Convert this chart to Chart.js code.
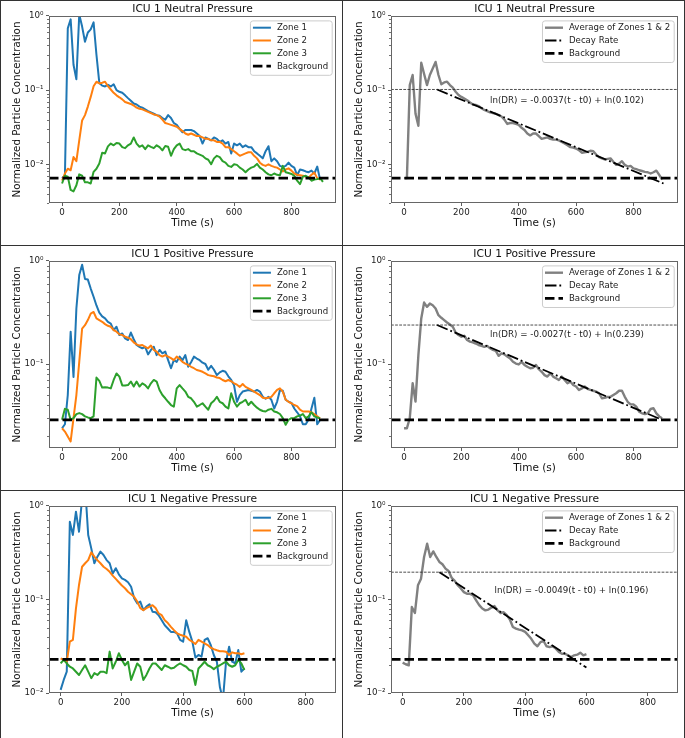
<!DOCTYPE html>
<html>
<head>
<meta charset="utf-8">
<script src="https://cdn.jsdelivr.net/npm/chart.js@4.4.1/dist/chart.umd.min.js"></script>
<style>
  html, body { margin: 0; padding: 0; background: #fff; }
  #figure { position: relative; width: 685px; height: 738px; overflow: hidden; }
  #figure canvas { position: absolute; }
  .cell { position: absolute; border: 1px solid #333; box-sizing: border-box; pointer-events: none; }
</style>
</head>
<body>
<div id="figure"></div>
<script>
const FONT = "'DejaVu Sans', sans-serif";

// Axis ticks
const timeTicks = [0, 200, 400, 600, 800];
const concTicks = [0.01, 0.1, 1];
const concTickLabels = ['10⁻²', '10⁻¹', '10⁰'];
const sampleStep = 10; // seconds between samples

const zoneLabels = ['Zone 1', 'Zone 2', 'Zone 3'];
const zoneColors = ['#1f77b4', '#ff7f0e', '#2ca02c'];

// ICU 1 neutral pressure (t = 0, 10, 20 ... s)
const neutralZone1 = [0.0065, 0.0070, 0.68, 0.90, 0.22, 0.14, 1.05, 0.72, 0.45, 0.60,
  0.66, 0.82, 0.30, 0.125, 0.115, 0.112, 0.118, 0.112, 0.12, 0.10,
  0.095, 0.092, 0.085, 0.078, 0.072, 0.066, 0.064, 0.060, 0.058, 0.055,
  0.052, 0.050, 0.048, 0.046, 0.045, 0.042, 0.040, 0.046, 0.042, 0.036,
  0.034, 0.030, 0.027, 0.029, 0.029, 0.029, 0.028, 0.026, 0.024, 0.019,
  0.023, 0.022, 0.021, 0.023, 0.022, 0.020, 0.021, 0.019, 0.020, 0.014,
  0.019, 0.018, 0.019, 0.017, 0.018, 0.017, 0.017, 0.015, 0.014, 0.013,
  0.012, 0.015, 0.0175, 0.011, 0.012, 0.011, 0.0095, 0.0092, 0.0095, 0.0105,
  0.0095, 0.0090, 0.0071, 0.0085, 0.0083, 0.0080, 0.0078, 0.0082, 0.0075, 0.0093,
  0.0062];
const neutralZone2 = [0.0060, 0.0075, 0.0087, 0.0083, 0.0125, 0.011, 0.021, 0.039, 0.046, 0.060,
  0.081, 0.113, 0.130, 0.123, 0.126, 0.130, 0.113, 0.102, 0.092, 0.085,
  0.080, 0.075, 0.069, 0.067, 0.065, 0.062, 0.058, 0.056, 0.055, 0.053,
  0.051, 0.049, 0.047, 0.046, 0.044, 0.040, 0.036, 0.035, 0.034, 0.033,
  0.032, 0.030, 0.028, 0.026, 0.025, 0.026, 0.025, 0.024, 0.024, 0.023,
  0.022, 0.022, 0.021, 0.021, 0.020, 0.020, 0.019, 0.017, 0.017, 0.016,
  0.015, 0.014, 0.013, 0.0135, 0.014, 0.0145, 0.0145, 0.013, 0.012, 0.0105,
  0.0098, 0.0095, 0.010, 0.0095, 0.0092, 0.0090, 0.0085, 0.0080, 0.0085, 0.0088,
  0.0082, 0.0075, 0.0072, 0.0071, 0.0070, 0.0068, 0.0066, 0.0072, 0.0077, 0.0065,
  0.0062];
const neutralZone3 = [0.0055, 0.0070, 0.0068, 0.0045, 0.0043, 0.0052, 0.0073, 0.0070, 0.0057, 0.0057,
  0.0055, 0.0079, 0.0087, 0.0102, 0.0143, 0.0140, 0.0174, 0.0190, 0.0180, 0.0194,
  0.0190, 0.0170, 0.0165, 0.0180, 0.0190, 0.0230, 0.0190, 0.0172, 0.0180, 0.0160,
  0.0180, 0.0172, 0.0165, 0.0180, 0.0170, 0.0154, 0.0176, 0.0172, 0.0130, 0.0160,
  0.0180, 0.0190, 0.0160, 0.0155, 0.0160, 0.0150, 0.0150, 0.0140, 0.0135, 0.0130,
  0.0120, 0.0115, 0.0100, 0.0120, 0.0130, 0.0125, 0.0110, 0.0105, 0.0095, 0.0092,
  0.0100, 0.0098, 0.0090, 0.0085, 0.0078, 0.0085, 0.0090, 0.0093, 0.0101, 0.0090,
  0.0085, 0.0078, 0.0073, 0.0071, 0.0075, 0.0072, 0.0071, 0.0095, 0.0078, 0.0076,
  0.0074, 0.0070, 0.0060, 0.0054, 0.0068, 0.0070, 0.0066, 0.0060, 0.0062, 0.0063,
  0.0065, 0.0058];
const neutralAverage = [0.0065, 0.0065, 0.117, 0.16, 0.048, 0.033, 0.234, 0.165, 0.117, 0.16,
  0.196, 0.24, 0.16, 0.12, 0.127, 0.13, 0.117, 0.108, 0.095, 0.086,
  0.081, 0.077, 0.073, 0.068, 0.064, 0.063, 0.061, 0.057, 0.054, 0.052,
  0.050, 0.049, 0.048, 0.046, 0.044, 0.040, 0.035, 0.036, 0.036, 0.035,
  0.034, 0.031, 0.029, 0.026, 0.0245, 0.026, 0.026, 0.024, 0.022, 0.0225,
  0.023, 0.022, 0.0215, 0.0215, 0.021, 0.020, 0.019, 0.018, 0.017, 0.0168,
  0.0163, 0.0155, 0.0143, 0.0145, 0.0147, 0.0152, 0.015, 0.0135, 0.0125, 0.012,
  0.0116, 0.0118, 0.012, 0.0108, 0.0098, 0.0102, 0.011, 0.0098, 0.0093, 0.0095,
  0.0088, 0.0086, 0.0083, 0.0081, 0.0079, 0.0078, 0.0075, 0.0078, 0.0082, 0.0072,
  0.0062];

// ICU 1 positive pressure
const positiveZone1 = [0.0238, 0.026, 0.05, 0.206, 0.075, 0.346, 0.73, 0.92, 0.67, 0.66,
  0.54, 0.45, 0.37, 0.316, 0.29, 0.277, 0.256, 0.247, 0.213, 0.23,
  0.191, 0.198, 0.177, 0.171, 0.202, 0.174, 0.153, 0.147, 0.142, 0.147,
  0.124, 0.137, 0.147, 0.122, 0.137, 0.127, 0.132, 0.109, 0.091, 0.109,
  0.105, 0.118, 0.109, 0.122, 0.094, 0.104, 0.118, 0.113, 0.109, 0.103,
  0.100, 0.088, 0.096, 0.088, 0.078, 0.083, 0.086, 0.084, 0.076, 0.070,
  0.062, 0.043, 0.050, 0.054, 0.055, 0.056, 0.055, 0.054, 0.056, 0.054,
  0.048, 0.046, 0.048, 0.045, 0.037, 0.043, 0.056, 0.055, 0.045, 0.043,
  0.042, 0.037, 0.034, 0.031, 0.026, 0.026, 0.029, 0.037, 0.047, 0.026,
  0.0287];
const positiveZone2 = [0.0238, 0.0221, 0.0198, 0.0177, 0.0298, 0.050, 0.105, 0.221, 0.238, 0.267,
  0.309, 0.32, 0.277, 0.267, 0.257, 0.244, 0.235, 0.23, 0.213, 0.206,
  0.194, 0.191, 0.184, 0.18, 0.174, 0.162, 0.155, 0.151, 0.153, 0.147,
  0.142, 0.151, 0.137, 0.132, 0.122, 0.118, 0.122, 0.118, 0.114, 0.109,
  0.118, 0.112, 0.105, 0.101, 0.098, 0.094, 0.091, 0.0875, 0.086, 0.084,
  0.081, 0.078, 0.077, 0.076, 0.074, 0.073, 0.070, 0.068, 0.070, 0.068,
  0.065, 0.063, 0.060, 0.064, 0.060, 0.058, 0.056, 0.054, 0.052, 0.050,
  0.047, 0.0465, 0.047, 0.048, 0.052, 0.056, 0.058, 0.054, 0.045, 0.043,
  0.0416, 0.040, 0.039, 0.036, 0.0346, 0.0346, 0.0346, 0.034, 0.0327, 0.031,
  0.0295];
const positiveZone3 = [0.0287, 0.0367, 0.036, 0.0287, 0.0298, 0.0326, 0.0334, 0.0326, 0.031, 0.0303,
  0.0298, 0.031, 0.0738, 0.0685, 0.059, 0.0594, 0.059, 0.058, 0.070, 0.081,
  0.0755, 0.062, 0.062, 0.0625, 0.0675, 0.0604, 0.0675, 0.0604, 0.065, 0.0625,
  0.058, 0.065, 0.070, 0.0675, 0.056, 0.050, 0.0465, 0.043, 0.040, 0.0386,
  0.058, 0.0625, 0.058, 0.054, 0.048, 0.0465, 0.043, 0.0386, 0.040, 0.0416,
  0.0386, 0.036, 0.0416, 0.044, 0.048, 0.043, 0.0416, 0.0386, 0.037, 0.052,
  0.043, 0.0386, 0.0416, 0.043, 0.045, 0.040, 0.043, 0.040, 0.0377, 0.036,
  0.035, 0.0346, 0.036, 0.0367, 0.0346, 0.034, 0.0327, 0.0298, 0.0257, 0.0287,
  0.0298, 0.0298, 0.031, 0.0316, 0.0327, 0.0298, 0.031, 0.034, 0.031, 0.0303,
  0.0298];
const positiveAverage = [0.0238, 0.0238, 0.0298, 0.065, 0.0432, 0.122, 0.277, 0.395, 0.359, 0.386,
  0.372, 0.346, 0.298, 0.281, 0.267, 0.253, 0.242, 0.23, 0.202, 0.191,
  0.184, 0.188, 0.171, 0.165, 0.162, 0.158, 0.153, 0.15, 0.147, 0.15,
  0.142, 0.137, 0.134, 0.12, 0.127, 0.124, 0.118, 0.113, 0.105, 0.101,
  0.099, 0.105, 0.098, 0.094, 0.091, 0.092, 0.098, 0.089, 0.084, 0.078,
  0.0755, 0.0814, 0.0755, 0.0728, 0.070, 0.0755, 0.070, 0.065, 0.0675, 0.0626,
  0.0604, 0.056, 0.058, 0.0604, 0.0575, 0.056, 0.055, 0.054, 0.052, 0.0465,
  0.047, 0.048, 0.048, 0.050, 0.052, 0.055, 0.055, 0.048, 0.043, 0.0406,
  0.0406, 0.0385, 0.0345, 0.0332, 0.0327, 0.0332, 0.0366, 0.0372, 0.0332, 0.031,
  0.0298];

// ICU 1 negative pressure
const negativeZone1 = [0.0108, 0.0138, 0.0169, 0.68, 0.49, 0.87, 0.53, 1.2, 1.6, 0.49,
  0.352, 0.244, 0.287, 0.325, 0.299, 0.264, 0.244, 0.19, 0.216, 0.186,
  0.168, 0.162, 0.153, 0.137, 0.103, 0.091, 0.095, 0.077, 0.084, 0.089,
  0.074, 0.073, 0.068, 0.060, 0.053, 0.049, 0.045, 0.045, 0.0435, 0.037,
  0.0354, 0.060, 0.045, 0.0354, 0.0239, 0.0255, 0.0245, 0.037, 0.0385, 0.0326,
  0.0255, 0.0216, 0.0115, 0.0085, 0.0216, 0.0313, 0.0216, 0.0208, 0.0288, 0.0169,
  0.0184];
const negativeZone2 = [0.0235, 0.0226, 0.0216, 0.0354, 0.037, 0.0805, 0.143, 0.224, 0.244, 0.264,
  0.319, 0.287, 0.264, 0.244, 0.224, 0.212, 0.198, 0.18, 0.166, 0.153,
  0.141, 0.132, 0.121, 0.114, 0.107, 0.095, 0.081, 0.077, 0.081, 0.084,
  0.087, 0.081, 0.071, 0.068, 0.060, 0.056, 0.051, 0.047, 0.0435, 0.042,
  0.041, 0.040, 0.037, 0.0354, 0.0334, 0.037, 0.0354, 0.034, 0.0326, 0.0305,
  0.0295, 0.0287, 0.028, 0.028, 0.0276, 0.0255, 0.0272, 0.0266, 0.0266, 0.026,
  0.0266];
const negativeZone3 = [0.0207, 0.0226, 0.0207, 0.0191, 0.0183, 0.0169, 0.0156, 0.0176, 0.0198, 0.0169,
  0.0144, 0.0163, 0.0156, 0.0169, 0.0169, 0.0163, 0.0277, 0.0183, 0.0216, 0.0266,
  0.0226, 0.0198, 0.0216, 0.0138, 0.0169, 0.0207, 0.0191, 0.0138, 0.0156, 0.0183,
  0.0207, 0.0207, 0.0191, 0.0176, 0.0198, 0.0191, 0.0183, 0.0186, 0.0198, 0.0207,
  0.0198, 0.0191, 0.0176, 0.0172, 0.0122, 0.0183, 0.0198, 0.0216, 0.0198, 0.0191,
  0.018, 0.0191, 0.0198, 0.0207, 0.0216, 0.0198, 0.0191, 0.0198, 0.0226, 0.0207,
  0.0176];
const negativeAverage = [0.0211, 0.0203, 0.0198, 0.083, 0.0717, 0.142, 0.167, 0.285, 0.395, 0.285,
  0.327, 0.285, 0.252, 0.238, 0.214, 0.202, 0.171, 0.158, 0.142, 0.131,
  0.120, 0.115, 0.115, 0.111, 0.098, 0.087, 0.080, 0.0765, 0.078, 0.082,
  0.085, 0.0765, 0.0717, 0.073, 0.068, 0.061, 0.0508, 0.0488, 0.0476, 0.0468,
  0.045, 0.0415, 0.038, 0.0337, 0.0316, 0.035, 0.036, 0.0316, 0.031, 0.0316,
  0.0298, 0.0275, 0.0263, 0.0263, 0.0253, 0.0243, 0.0253, 0.0257, 0.027, 0.0253,
  0.026];

// Background levels, fitted amplitudes and decay-rate line end points (neutral, positive, negative)
const backgroundLevels = [0.0065, 0.0287, 0.0229];
const fitAmplitudes = [0.102, 0.239, 0.196];
const decayTimes = [[115, 905], [115, 900], [120, 600]];
const decayValues = [[0.102, 0.0055], [0.239, 0.0287], [0.196, 0.0187]];
const fitLabels = ['ln(DR) = -0.0037(t - t0) + ln(0.102)',
                   'ln(DR) = -0.0027(t - t0) + ln(0.239)',
                   'ln(DR) = -0.0049(t - t0) + ln(0.196)'];
const fitLabelAt = [[300, 0.071], [300, 0.191], [300, 0.124]];

const titles = ['ICU 1 Neutral Pressure', 'ICU 1 Positive Pressure', 'ICU 1 Negative Pressure'];
const zoneSets = [[neutralZone1, neutralZone2, neutralZone3],
                  [positiveZone1, positiveZone2, positiveZone3],
                  [negativeZone1, negativeZone2, negativeZone3]];
const averages = [neutralAverage, positiveAverage, negativeAverage];

// Axis ranges for each row
const timeRanges = [[-45.5, 955.5], [-45.5, 955.5], [-38, 899]];
const concRanges = [[0.003, 1], [0.0153, 1], [0.01, 1]];

// Layout of the 3 x 2 grid
const rowTops = [0, 245, 490];
const rowHeights = [245, 245, 248];
const colLefts = [0, 342];
const colWidths = [342, 343];

function toPoints(values) {
  return values.map((v, i) => ({ x: i * sampleStep, y: v }));
}

function flatLine(range, level) {
  return [{ x: range[0], y: level }, { x: range[1], y: level }];
}

// Frame, minor ticks, fit text and in-axes legend
const decorPlugin = {
  id: 'decor',
  afterDatasetsDraw(chart) {
    const { ctx, chartArea: a, scales: { x, y } } = chart;
    const opts = chart.options.plugins.decor;
    ctx.save();

    // minor log ticks
    ctx.strokeStyle = '#333';
    ctx.lineWidth = 0.7;
    for (let e = -3; e <= 0; e++) {
      for (let m = 2; m <= 9; m++) {
        const v = m * Math.pow(10, e);
        if (v < y.min || v > y.max) continue;
        const py = Math.round(y.getPixelForValue(v)) + 0.5;
        ctx.beginPath();
        ctx.moveTo(a.left - 2, py);
        ctx.lineTo(a.left, py);
        ctx.stroke();
      }
    }

    // axes frame
    ctx.strokeStyle = '#666';
    ctx.lineWidth = 1;
    ctx.strokeRect(a.left + 0.5, a.top + 0.5, a.right - a.left - 1, a.bottom - a.top - 1);

    // fit equation
    if (opts.note) {
      ctx.font = '8.7px ' + FONT;
      ctx.fillStyle = '#222';
      ctx.textAlign = 'left';
      ctx.textBaseline = 'middle';
      ctx.fillText(opts.note.text, x.getPixelForValue(opts.note.t), y.getPixelForValue(opts.note.value));
    }

    // legend
    const items = chart.data.datasets.filter(d => d.label);
    const fs = 8.6, rowH = 12.8, pad = 3, handle = 18, gap = 6;
    ctx.font = fs + 'px ' + FONT;
    const textW = Math.max(...items.map(d => ctx.measureText(d.label).width));
    const boxW = pad + handle + gap + textW + 3.5;
    const boxH = 2 * pad + (items.length - 1) * rowH + 10;
    const right = a.right - 4.3, top = a.top + 4.4;
    const left = right - boxW;
    ctx.beginPath();
    ctx.roundRect(left + 0.5, top + 0.5, boxW, boxH, 2.5);
    ctx.fillStyle = 'rgba(255,255,255,0.8)';
    ctx.fill();
    ctx.strokeStyle = '#cccccc';
    ctx.lineWidth = 1;
    ctx.stroke();
    items.forEach((d, i) => {
      const cy = top + pad + 4.3 + i * rowH;
      ctx.save();
      ctx.strokeStyle = d.borderColor;
      ctx.lineWidth = d.borderWidth;
      ctx.setLineDash(d.borderDash || []);
      ctx.beginPath();
      ctx.moveTo(left + pad, cy);
      ctx.lineTo(left + pad + handle, cy);
      ctx.stroke();
      ctx.restore();
      ctx.fillStyle = '#222';
      ctx.textAlign = 'left';
      ctx.textBaseline = 'middle';
      ctx.fillText(d.label, left + pad + handle + gap, cy + 0.5);
    });
    ctx.restore();
  }
};

function buildOptions(row, W, H, title, note) {
  const [tMin, tMax] = timeRanges[row];
  const [cMin, cMax] = concRanges[row];
  return {
    responsive: false,
    animation: false,
    devicePixelRatio: 1,
    events: [],
    layout: { padding: { left: 0, top: 0, right: W - 336, bottom: 0 } },
    elements: {
      point: { radius: 0 },
      line: { tension: 0, fill: false, borderJoinStyle: 'round' }
    },
    plugins: {
      legend: { display: false },
      tooltip: { enabled: false },
      title: {
        display: true,
        text: title,
        fullSize: false,
        color: '#111',
        font: { family: FONT, size: 10.7, weight: 'normal' },
        padding: { top: 2.6, bottom: 0.56 }
      },
      decor: { note: note }
    },
    scales: {
      x: {
        type: 'linear',
        min: tMin,
        max: tMax,
        afterBuildTicks: s => { s.ticks = timeTicks.map(v => ({ value: v })); },
        afterFit: s => { s.height = H - 203; },
        border: { display: false },
        grid: { drawOnChartArea: false, drawTicks: true, tickLength: 3, tickColor: '#333', tickWidth: 0.8 },
        ticks: {
          autoSkip: false, maxRotation: 0, padding: 1.5, color: '#222',
          font: { family: FONT, size: 8.7 },
          callback: v => String(v)
        },
        title: {
          display: true, text: 'Time (s)', color: '#111',
          font: { family: FONT, size: 10.5 },
          padding: { top: 0, bottom: H - 223.2 - 6.3 }
        }
      },
      y: {
        type: 'logarithmic',
        min: cMin,
        max: cMax,
        afterBuildTicks: s => {
          s.ticks = concTicks.filter(v => v >= cMin && v <= cMax).map(v => ({ value: v }));
        },
        afterFit: s => { s.width = 49; },
        border: { display: false },
        grid: { drawOnChartArea: false, drawTicks: true, tickLength: 3, tickColor: '#333', tickWidth: 0.8 },
        ticks: {
          autoSkip: false, padding: 2.5, color: '#222',
          font: { family: FONT, size: 8.7 },
          callback: v => concTickLabels[concTicks.indexOf(v)]
        },
        title: {
          display: true, text: 'Normalized Particle Concentration', color: '#111',
          font: { family: FONT, size: 10.3 },
          padding: { top: 10.8, bottom: 0 }
        }
      }
    }
  };
}

const figure = document.getElementById('figure');

function addCanvas(row, col) {
  const canvas = document.createElement('canvas');
  canvas.width = colWidths[col];
  canvas.height = rowHeights[row];
  canvas.style.left = colLefts[col] + 'px';
  canvas.style.top = rowTops[row] + 'px';
  canvas.style.width = colWidths[col] + 'px';
  canvas.style.height = rowHeights[row] + 'px';
  figure.appendChild(canvas);
  return canvas;
}

for (let row = 0; row < 3; row++) {
  const range = timeRanges[row];

  // left: the three zones
  const zoneData = zoneSets[row].map((vals, i) => ({
    label: zoneLabels[i],
    data: toPoints(vals),
    borderColor: zoneColors[i],
    borderWidth: 2,
    order: 10 - i
  }));
  zoneData.push({
    label: 'Background',
    data: flatLine(range, backgroundLevels[row]),
    borderColor: '#000',
    borderWidth: 2.8,
    borderDash: [9.5, 4],
    order: 1
  });
  new Chart(addCanvas(row, 0), {
    type: 'line',
    data: { datasets: zoneData },
    options: buildOptions(row, colWidths[0], rowHeights[row], titles[row], null),
    plugins: [decorPlugin]
  });

  // right: average with decay-rate fit
  const fitData = [
    {
      label: 'Average of Zones 1 & 2',
      data: toPoints(averages[row]),
      borderColor: '#808080',
      borderWidth: 2.4,
      order: 10
    },
    {
      label: 'Decay Rate',
      data: decayTimes[row].map((t, i) => ({ x: t, y: decayValues[row][i] })),
      borderColor: '#000',
      borderWidth: 1.8,
      borderDash: [11.5, 2.9, 1.8, 2.9],
      order: 9
    },
    {
      label: 'Background',
      data: flatLine(range, backgroundLevels[row]),
      borderColor: '#000',
      borderWidth: 2.8,
      borderDash: [9.5, 4],
      order: 8
    },
    {
      label: '',
      data: flatLine(range, fitAmplitudes[row]),
      borderColor: '#222',
      borderWidth: 0.8,
      borderDash: [2.8, 1.3],
      order: 7
    }
  ];
  new Chart(addCanvas(row, 1), {
    type: 'line',
    data: { datasets: fitData },
    options: buildOptions(row, colWidths[1], rowHeights[row], titles[row], {
      text: fitLabels[row], t: fitLabelAt[row][0], value: fitLabelAt[row][1]
    }),
    plugins: [decorPlugin]
  });
}

// panel borders
for (let row = 0; row < 3; row++) {
  for (let col = 0; col < 2; col++) {
    const cell = document.createElement('div');
    cell.className = 'cell';
    cell.style.left = colLefts[col] + 'px';
    cell.style.top = rowTops[row] + 'px';
    cell.style.width = '343px';
    cell.style.height = (rowHeights[row] + 1) + 'px';
    figure.appendChild(cell);
  }
}
</script>
</body>
</html>
